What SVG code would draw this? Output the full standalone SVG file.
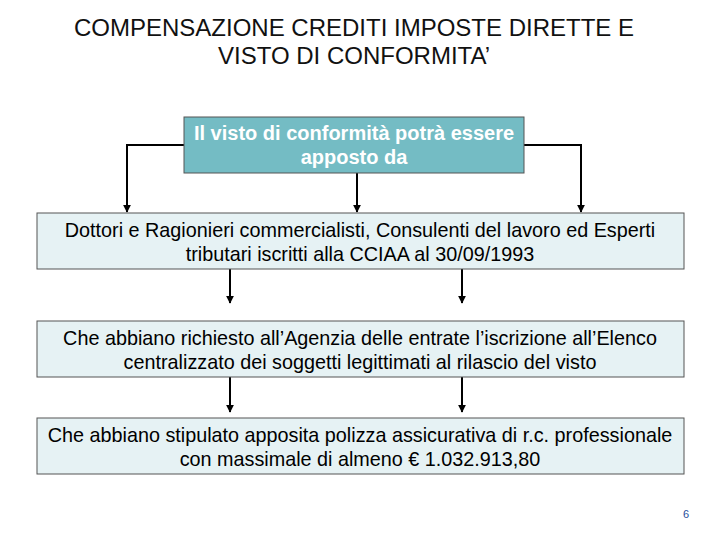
<svg xmlns="http://www.w3.org/2000/svg" width="720" height="540" viewBox="0 0 720 540">
<style>
text{font-family:"Liberation Sans",Arial,sans-serif;text-anchor:middle}
.b{fill:#e6f2f4;stroke:#555;stroke-width:1}
.t{font-size:19.8px;fill:#000}
.c{fill:none;stroke:#000;stroke-width:2;marker-end:url(#a)}
</style>
<defs><marker id="a" viewBox="0 0 10 10" refX="9" refY="5" markerWidth="4" markerHeight="4" orient="auto"><path d="M0,0L10,5L0,10z" fill="#000"/></marker></defs>
<rect width="720" height="540" fill="#fff"/>
<text x="354" y="36" font-size="24" fill="#111">COMPENSAZIONE CREDITI IMPOSTE DIRETTE E</text>
<text x="354" y="64" font-size="24" fill="#111">VISTO DI CONFORMITA’</text>
<g id="connectors">
<path class="c" d="M184,145H127V212"/>
<path class="c" d="M357,173V212"/>
<path class="c" d="M524,145H581V212"/>
<path class="c" d="M230,269V303"/>
<path class="c" d="M462,269V303"/>
<path class="c" d="M230,377V412"/>
<path class="c" d="M462,377V412"/>
</g>
<g id="n0"><rect x="184" y="117" width="340" height="56" fill="#74bcc4" stroke="#555"/>
<text x="354" y="140" font-size="20" font-weight="bold" fill="#fff">Il visto di conformità potrà essere</text>
<text x="354" y="164" font-size="20" font-weight="bold" fill="#fff">apposto da</text></g>
<g id="n1"><rect class="b" x="37" y="213" width="647" height="56"/>
<text class="t" x="360" y="237">Dottori e Ragionieri commercialisti, Consulenti del lavoro ed Esperti</text>
<text class="t" x="360" y="261">tributari iscritti alla CCIAA al 30/09/1993</text></g>
<g id="n2"><rect class="b" x="37" y="321" width="647" height="56"/>
<text class="t" x="360" y="345">Che abbiano richiesto all’Agenzia delle entrate l’iscrizione all’Elenco</text>
<text class="t" x="360" y="369">centralizzato dei soggetti legittimati al rilascio del visto</text></g>
<g id="n3"><rect class="b" x="37" y="418" width="647" height="56"/>
<text class="t" x="360" y="442">Che abbiano stipulato apposita polizza assicurativa di r.c. professionale</text>
<text class="t" x="360" y="466">con massimale di almeno € 1.032.913,80</text></g>
<text x="686" y="518" font-size="11" fill="#1f4e9c">6</text>
</svg>
